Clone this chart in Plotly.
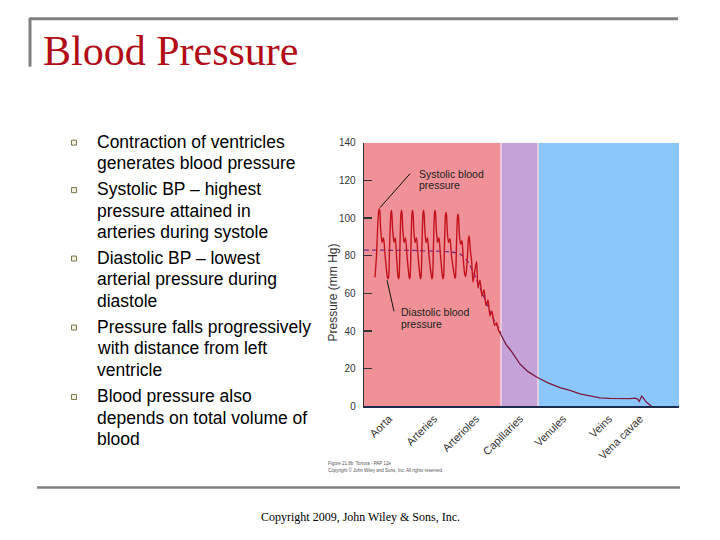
import plotly.graph_objects as go

W, H = 720, 540

# ---------------- data ----------------
# position along the circulation (arbitrary units 0..315) and pressure (mm Hg)
wave_pos = [11, 12.5, 13.8, 14.7, 15.3, 15.9, 16.6, 18, 19.5, 21, 23, 24.0, 24.6,
            25.6, 26.7, 27.3, 27.9, 28.6, 30, 31.3, 32.5, 33.8, 34.4, 35.0,
            36.0, 36.9, 37.5, 38.1, 38.8, 40, 41.5, 43, 44.8, 45.4, 46.0,
            47.0, 47.9, 48.5, 49.1, 49.8, 51, 52.5, 54, 55.8, 56.4, 57.0,
            58.0, 58.9, 59.5, 60.1, 60.8, 62, 63.5, 65, 67.2, 67.9, 68.5,
            69.5, 70.4, 71, 71.6, 72.3, 73.5, 75, 76.5, 78.2, 78.9, 79.5,
            80.5, 81.4, 82, 82.6, 83.3, 84.5, 86, 87.5, 90.2, 90.9, 91.5,
            92.5, 93.4, 94, 94.6, 95.3, 96.5, 98, 99, 100.5, 101.3, 102,
            103.5, 104.4, 105, 105.7, 106.5, 107.5, 109, 110.5, 112.5, 114,
            116, 118, 120, 122, 124, 126, 128, 130.5, 132.5, 134.5, 136]
wave_p = [68.6, 80, 97, 103.5, 105, 103, 95, 87, 89.5, 81, 70, 67.8, 68.5,
          85, 101, 104, 102, 94, 87, 89.5, 80, 70, 67.8, 68.5,
          86, 102, 104, 102, 94, 87, 89.5, 80, 70, 67.8, 68.5,
          86, 102, 104, 102, 94, 87, 89.5, 80, 70, 67.8, 68.5,
          86, 102, 104, 102, 94, 87, 89.5, 80, 70, 67.8, 68.5,
          86, 102, 104, 102, 94, 87, 89.5, 80, 70, 67.8, 68.5,
          86, 101, 103, 101, 93, 87, 89, 80, 70, 68, 68.8,
          86, 100, 102, 100, 92, 86, 88, 80, 71, 69, 70,
          80, 89, 90.5, 88, 82, 78, 66, 71, 77, 63,
          67, 58.5, 62, 53.5, 56.5, 48, 50.5, 43, 44.5, 40.5, 39]

mean_pos = [0, 20, 50, 80, 94, 100, 105, 110, 116, 122, 128, 134, 137]
mean_p = [83, 83, 82.8, 82.3, 81.5, 79.5, 76, 70.5, 63, 55, 48, 42, 39]

decay_pos = [136, 139, 142, 148, 156, 164, 173, 184, 196, 206, 216, 226, 236,
             246, 256, 266, 271, 273.3, 275.3, 277.7, 279.3, 282, 287.7]
decay_p = [39, 36, 33, 28.8, 22.5, 18.5, 15.5, 12.5, 10, 8.5, 6.7, 5.6, 4.6,
           4.3, 4.1, 4.2, 4.4, 4.1, 2.8, 5.5, 4.6, 2.5, 0]

vessel_names = ["Aorta", "Arteries", "Arterioles", "Capillaries", "Venules", "Veins", "Vena cavae"]
vessel_pos = [25, 70, 112, 156, 199, 245, 276]

region_edges = [0, 137, 174, 315]
region_colors = ["#ef9196", "#c4a3d8", "#8cc7fc"]

y_ticks = [0, 20, 40, 60, 80, 100, 120, 140]

bullets = [
    ["Contraction of ventricles", "generates blood pressure"],
    ["Systolic BP \u2013 highest", "pressure attained in", "arteries during systole"],
    ["Diastolic BP \u2013 lowest", "arterial pressure during", "diastole"],
    ["Pressure falls progressively", "with distance from left", "ventricle"],
    ["Blood pressure also", "depends on total volume of", "blood"],
]

# ---------------- figure ----------------
fig = go.Figure()
fig.add_trace(go.Scatter(x=mean_pos, y=mean_p, mode="lines",
                         line=dict(color="#7b2c86", width=1.3, dash="5px,3px"),
                         hoverinfo="skip", showlegend=False))
fig.add_trace(go.Scatter(x=wave_pos, y=wave_p, mode="lines",
                         line=dict(color="#c4121c", width=1.4, shape="spline", smoothing=0.6),
                         hoverinfo="skip", showlegend=False))
fig.add_trace(go.Scatter(x=decay_pos, y=decay_p, mode="lines",
                         line=dict(color="#7d1a3e", width=1.3),
                         hoverinfo="skip", showlegend=False))

shapes = []
for i, c in enumerate(region_colors):
    shapes.append(dict(type="rect", xref="x", yref="y", x0=region_edges[i], x1=region_edges[i + 1],
                       y0=0, y1=140, fillcolor=c, line=dict(width=0), layer="below"))
for e in region_edges[1:3]:
    shapes.append(dict(type="line", xref="x", yref="y", x0=e, x1=e, y0=0, y1=140,
                       line=dict(color="#f4d6e4", width=1.5), layer="below"))

# leader lines
shapes.append(dict(type="line", xref="x", yref="y", x0=16, y0=105.5, x1=46, y1=123.5,
                   line=dict(color="#111", width=1)))
shapes.append(dict(type="line", xref="x", yref="y", x0=23, y0=67, x1=30, y1=50.5,
                   line=dict(color="#111", width=1)))

def px(x):
    return x / W

def py(y):
    # slight vertical correction for the capture
    s = (y - 4.3) / 0.982
    return 1 - s / H

# slide frame lines
shapes.append(dict(type="line", xref="paper", yref="paper", x0=px(30), x1=px(678), y0=py(18), y1=py(18),
                   line=dict(color="#808080", width=3)))
shapes.append(dict(type="line", xref="paper", yref="paper", x0=px(30), x1=px(30), y0=py(17), y1=py(66),
                   line=dict(color="#808080", width=3)))
shapes.append(dict(type="line", xref="paper", yref="paper", x0=px(37), x1=px(680), y0=py(487), y1=py(487),
                   line=dict(color="#808080", width=2.5)))

annotations = []
# title
annotations.append(dict(text="Blood Pressure", x=px(41), y=py(50), xref="paper", yref="paper",
                        xanchor="left", yanchor="middle", showarrow=False,
                        font=dict(family="Liberation Serif", size=42, color="#b20d16")))
# bullets
line_h = 21.6
first_y = [141, 188.5, 257, 326, 395.5]
for b, y0 in zip(bullets, first_y):
    shapes.append(dict(type="rect", xref="paper", yref="paper",
                       x0=px(71.5), x1=px(76.5), y0=py(y0 - 1.5), y1=py(y0 + 3.5),
                       fillcolor="#f2efdc", line=dict(color="#7c7650", width=1)))
    for k, t in enumerate(b):
        annotations.append(dict(text=t, x=px(95), y=py(y0 + k * line_h), xref="paper", yref="paper",
                                xanchor="left", yanchor="middle", showarrow=False,
                                font=dict(family="Liberation Sans", size=17.5, color="#000")))
# chart labels
for t, yv in [("Systolic blood", 123.4), ("pressure", 117.6)]:
    annotations.append(dict(text=t, x=52.5, y=yv, xref="x", yref="y", xanchor="left", yanchor="middle",
                            showarrow=False, font=dict(family="Liberation Sans", size=10.5, color="#222")))
for t, yv in [("Diastolic blood", 50), ("pressure", 43.9)]:
    annotations.append(dict(text=t, x=35, y=yv, xref="x", yref="y", xanchor="left", yanchor="middle",
                            showarrow=False, font=dict(family="Liberation Sans", size=10.5, color="#222")))
# y axis title
annotations.append(dict(text="Pressure (mm Hg)", x=px(333), y=py(292), xref="paper", yref="paper",
                        xanchor="center", yanchor="middle", textangle=-90, showarrow=False,
                        font=dict(family="Liberation Sans", size=12, color="#333")))
# figure caption
annotations.append(dict(text="Figure 21.8b  Tortora - PAP 12e", x=px(326), y=py(463), xref="paper", yref="paper",
                        xanchor="left", yanchor="middle", showarrow=False,
                        font=dict(family="Liberation Sans", size=4.5, color="#555")))
annotations.append(dict(text="Copyright \u00a9 John Wiley and Sons, Inc. All rights reserved.", x=px(326), y=py(470),
                        xref="paper", yref="paper", xanchor="left", yanchor="middle", showarrow=False,
                        font=dict(family="Liberation Sans", size=4.5, color="#555")))
# copyright
annotations.append(dict(text="Copyright 2009, John Wiley & Sons, Inc.", x=px(360), y=py(517), xref="paper",
                        yref="paper", xanchor="center", yanchor="middle", showarrow=False,
                        font=dict(family="Liberation Serif", size=12, color="#000")))

fig.update_layout(
    width=W, height=H, margin=dict(l=0, r=0, t=0, b=0),
    paper_bgcolor="white", plot_bgcolor="white",
    showlegend=False,
    xaxis=dict(domain=[px(364), px(679)], range=[0, 315], showline=True, linecolor="#1c2b4a", linewidth=1.5,
               tickvals=vessel_pos, ticktext=vessel_names, tickangle=-45, ticks="",
               showgrid=False, zeroline=False,
               tickfont=dict(family="Liberation Sans", size=11, color="#333")),
    yaxis=dict(domain=[py(406), py(142)], range=[0, 140], showline=True, linecolor="#333", linewidth=1.3,
               ticks="inside", ticklen=8, tickcolor="#333", tickwidth=1.2, tickvals=y_ticks,
               showgrid=False, zeroline=False, ticklabelstandoff=5,
               tickfont=dict(family="Liberation Sans", size=10, color="#333")),
    shapes=shapes, annotations=annotations,
)

fig.write_html(
    "out.html",
    config={"displayModeBar": False, "staticPlot": True},
    post_script=(
        "document.documentElement.style.margin='0';"
        "document.documentElement.style.height='540px';"
        "document.documentElement.style.overflow='hidden';"
        "document.body.style.margin='0';"
        "document.body.style.height='540px';"
        "document.body.style.overflow='hidden';"
        "var gd=document.getElementById('{plot_id}');"
        "gd.parentNode.style.lineHeight='0';gd.parentNode.style.fontSize='0';"
        "gd.parentNode.style.height='540px';gd.parentNode.style.overflow='hidden';"
    ),
)
